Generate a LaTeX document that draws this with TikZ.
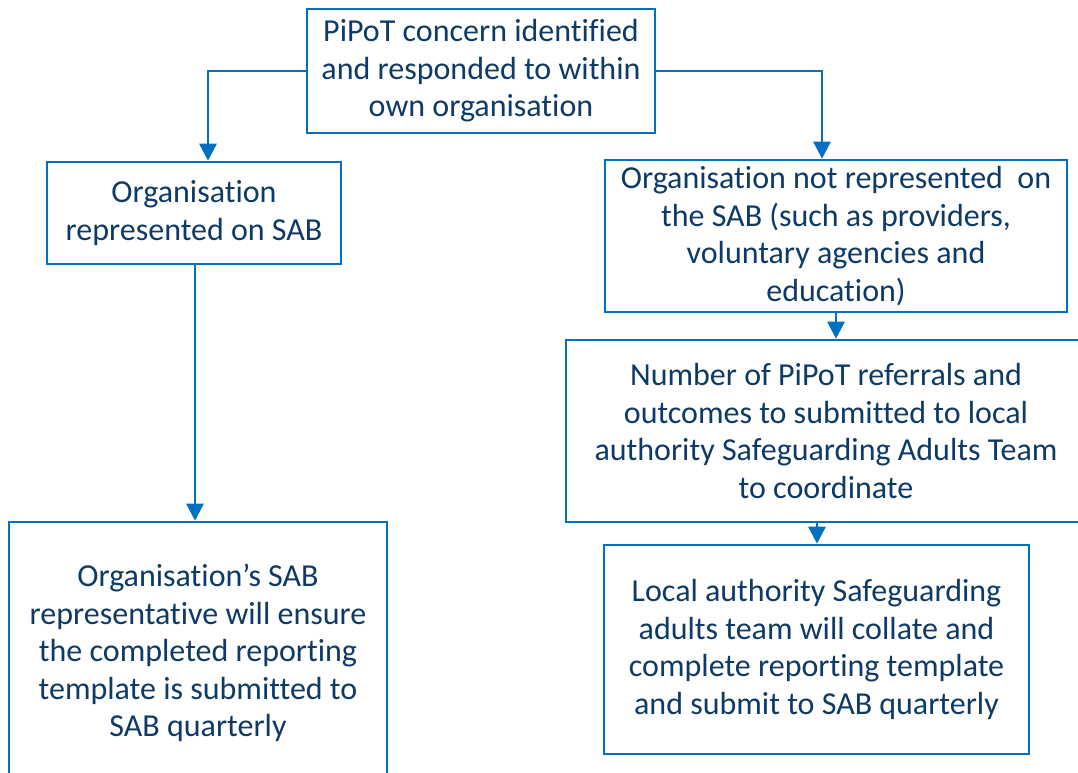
\documentclass[tikz,border=0pt]{standalone}
\usepackage{fontspec}
\setmainfont[Ligatures=NoCommon]{Carlito}
\usetikzlibrary{arrows.meta}
\definecolor{boxblue}{HTML}{0070C0}
\definecolor{txtblue}{HTML}{0D3A66}
\tikzset{
  box/.style={draw=boxblue, line width=2.6pt, fill=white, inner sep=0pt, align=center,
    text=txtblue, font=\fontsize{32}{37.6}\selectfont},
  conn/.style={draw=boxblue, line width=2.6pt, -{Triangle[width=17pt,length=17pt]}}
}
\begin{document}
\begin{tikzpicture}[x=1pt,y=-1pt]
\useasboundingbox (0,0) rectangle (1078,773);
\begin{scope}
\clip (0,0) rectangle (1078,773);
\node[box, minimum width=348pt, minimum height=124pt] (top) at (481,71)
  {PiPoT concern identified\\and responded to within\\own organisation};
\node[box, minimum width=294pt, minimum height=102pt] (left) at (194,213)
  {Organisation\\represented on SAB};
\node[box, minimum width=462pt, minimum height=152pt] (right) at (836,236)
  {Organisation not represented\ \ on\\the SAB (such as providers,\\voluntary agencies and\\education)};
\node[box, minimum width=520pt, minimum height=182pt] (mid) at (826,431)
  {Number of PiPoT referrals and\\outcomes to submitted to local\\authority Safeguarding Adults Team\\to coordinate};
\node[box, minimum width=425pt, minimum height=209pt] (br) at (816.5,649.5)
  {Local authority Safeguarding\\adults team will collate and\\complete reporting template\\and submit to SAB quarterly};
\node[box, minimum width=378pt, minimum height=262pt] (bl) at (198,653)
  {Organisation’s SAB\\representative will ensure\\the completed reporting\\template is submitted to\\SAB quarterly};
\coordinate (lc) at (208,71);
\coordinate (rc) at (822,71);
\draw[conn] (top.west |- 0,71) -- (lc) -- (lc |- left.north);
\draw[conn] (top.east |- 0,71) -- (rc) -- (rc |- right.north);
\draw[conn] (left.south -| 195,0) -- (bl.north -| 195,0);
\draw[conn] (right.south) -- (mid.north -| right.south);
\draw[conn] (mid.south -| 817,0) -- (br.north -| 817,0);
\end{scope}
\end{tikzpicture}
\end{document}
